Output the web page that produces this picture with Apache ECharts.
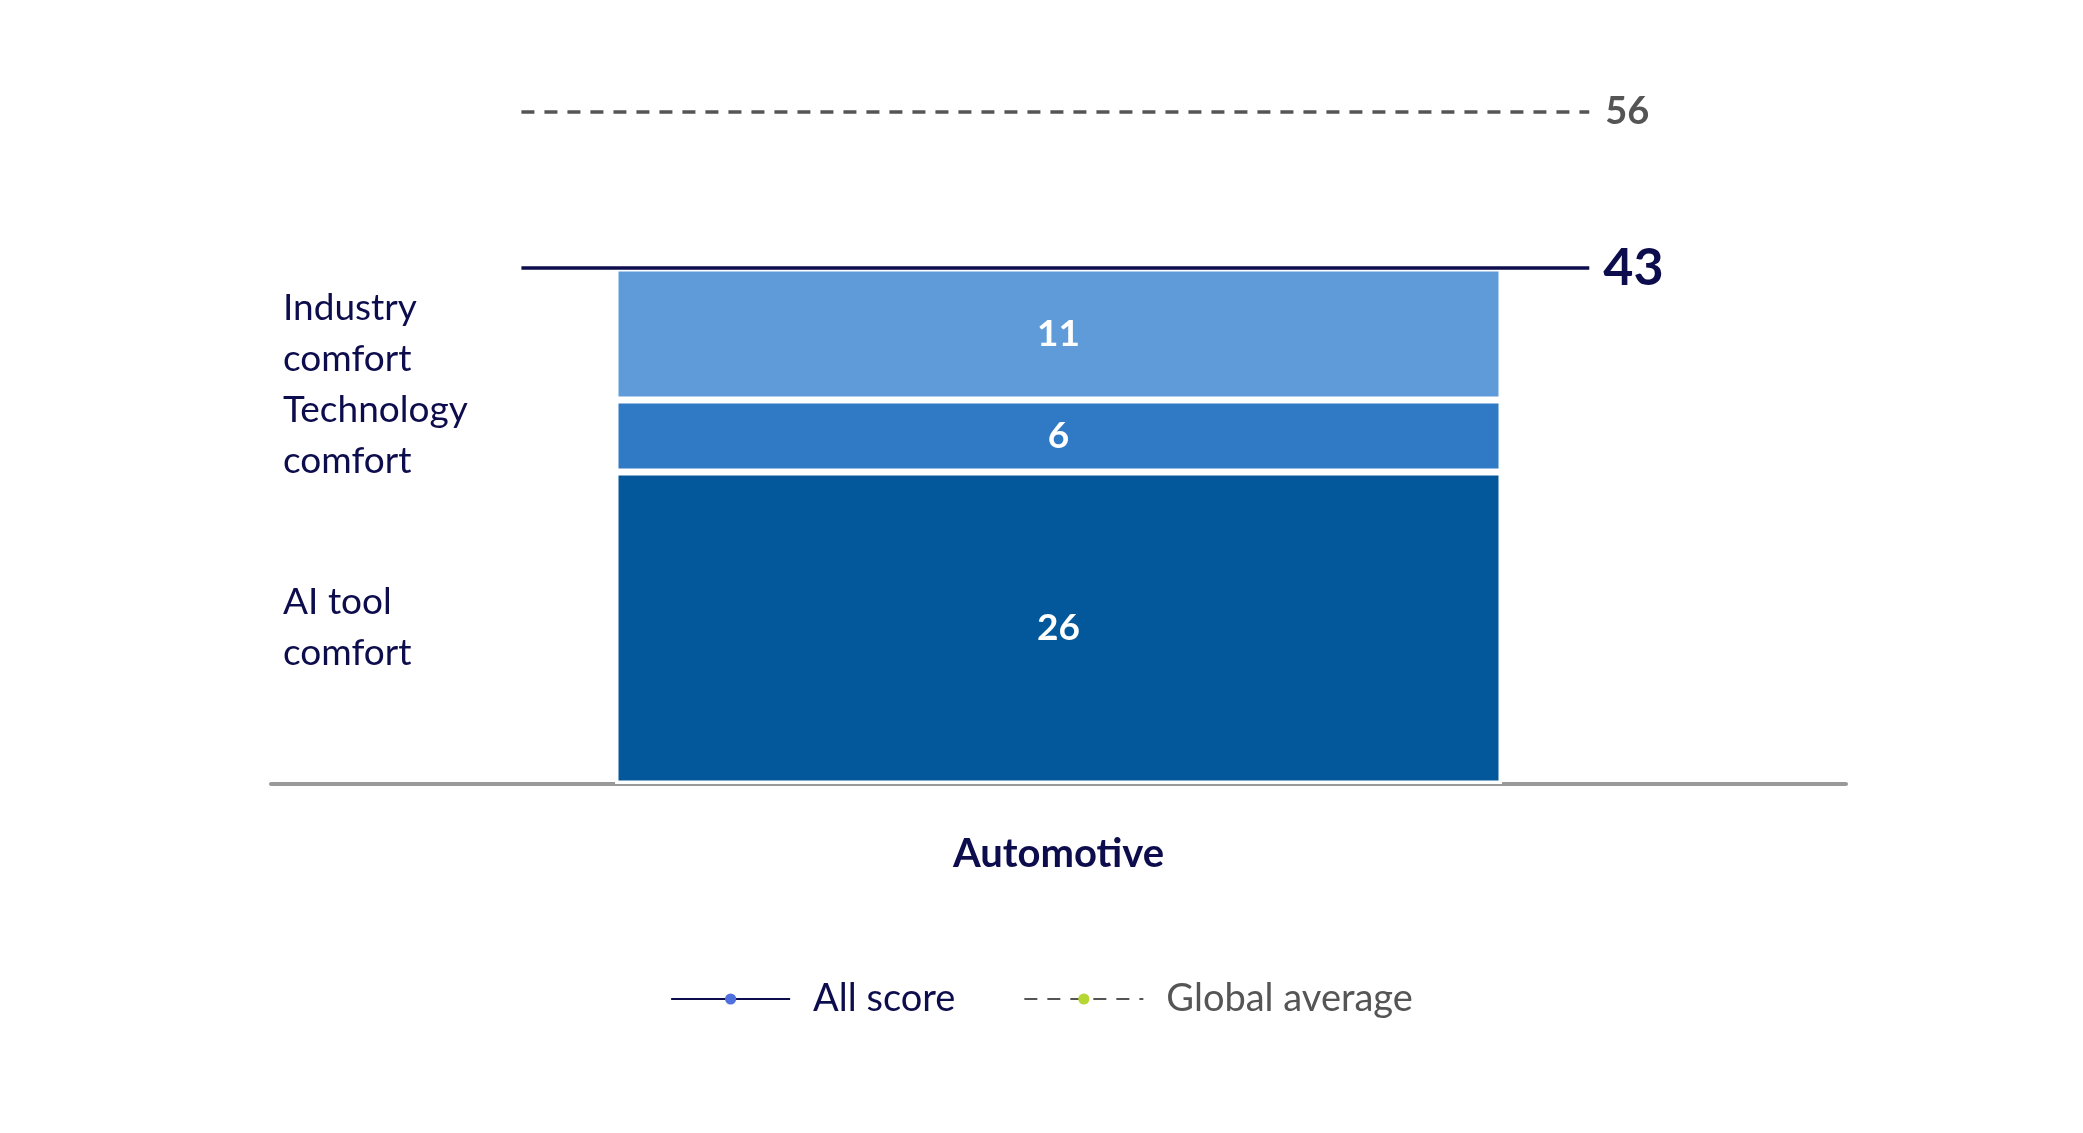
<!DOCTYPE html>
<html>
<head>
<meta charset="utf-8">
<style>html,body{margin:0;padding:0;background:#fff}#chart{width:2083px;height:1133px}</style>
<script src="https://cdn.jsdelivr.net/npm/echarts@6/dist/echarts.min.js"></script>
</head>
<body>
<div id="chart"></div>
<script>
var categories = ['Automotive'];
var segmentNames = ['AI tool\ncomfort', 'Technology\ncomfort', 'Industry\ncomfort'];
var aiTool = [26];
var technology = [6];
var industry = [11];
var allScore = 43;
var globalAverage = 56;
var lineSpan = [15.9, 83.7];

var font = 'Lato, "Noto Sans", sans-serif';
var navy = '#0d0d4d';
var gray = '#555555';
var colors = ['#02589b', '#2f79c5', '#5f9bd9'];
var values = [aiTool, technology, industry];

var series = [];
values.forEach(function (v, i) {
    series.push({
        name: segmentNames[i], type: 'bar', stack: 'score', barWidth: 887,
        data: v,
        itemStyle: { color: colors[i], borderColor: '#fff', borderWidth: 3.5 },
        label: { show: true, position: 'inside', color: '#fff', fontFamily: font, fontWeight: 'bold', fontSize: 37 },
        emphasis: { disabled: true }
    });
});
values.forEach(function (v, i) {
    series.push({
        name: 'name' + i, type: 'bar', stack: 'names', barWidth: 887, barGap: '-100%',
        data: v,
        itemStyle: { color: 'rgba(0,0,0,0)' },
        label: {
            show: true, position: [-332, '50%'], align: 'left', verticalAlign: 'middle',
            formatter: segmentNames[i], color: navy, fontFamily: font, fontSize: 37, lineHeight: 51
        },
        emphasis: { disabled: true }, silent: true
    });
});
series.push({
    name: 'All score', type: 'line', xAxisIndex: 1, symbol: 'none', z: 10,
    data: [[lineSpan[0], allScore], [lineSpan[1], allScore]],
    lineStyle: { color: navy, width: 3.5 },
    endLabel: { show: true, distance: 14, formatter: String(allScore), color: navy, fontFamily: font, fontWeight: 'bold', fontSize: 52 }
});
series.push({
    name: 'Global average', type: 'line', xAxisIndex: 1, symbol: 'none', z: 10,
    data: [[lineSpan[0], globalAverage], [lineSpan[1], globalAverage]],
    lineStyle: { color: gray, width: 3.5, type: [13, 10] },
    endLabel: { show: true, distance: 16, formatter: String(globalAverage), color: gray, fontFamily: font, fontWeight: 'bold', fontSize: 38 }
});

var option = {
    animation: false,
    grid: { left: 271, right: 237, top: 64, bottom: 349 },
    legend: {
        bottom: 110, left: 'center', itemWidth: 119, itemHeight: 14, itemGap: 68,
        data: [
            { name: 'All score', textStyle: { color: navy } },
            { name: 'Global average', textStyle: { color: gray } }
        ],
        textStyle: { fontFamily: font, fontSize: 38, padding: [0, 0, 0, 18] }
    },
    xAxis: [
        {
            type: 'category', data: categories,
            axisLine: { lineStyle: { color: '#999', width: 4 } },
            axisTick: { show: false },
            axisLabel: { margin: 50, color: navy, fontFamily: font, fontWeight: 'bold', fontSize: 40 }
        },
        { type: 'value', min: 0, max: 100, show: false }
    ],
    yAxis: { type: 'value', min: 0, max: 60, show: false },
    series: series
};
echarts.init(document.getElementById('chart')).setOption(option);
</script>
</body>
</html>
